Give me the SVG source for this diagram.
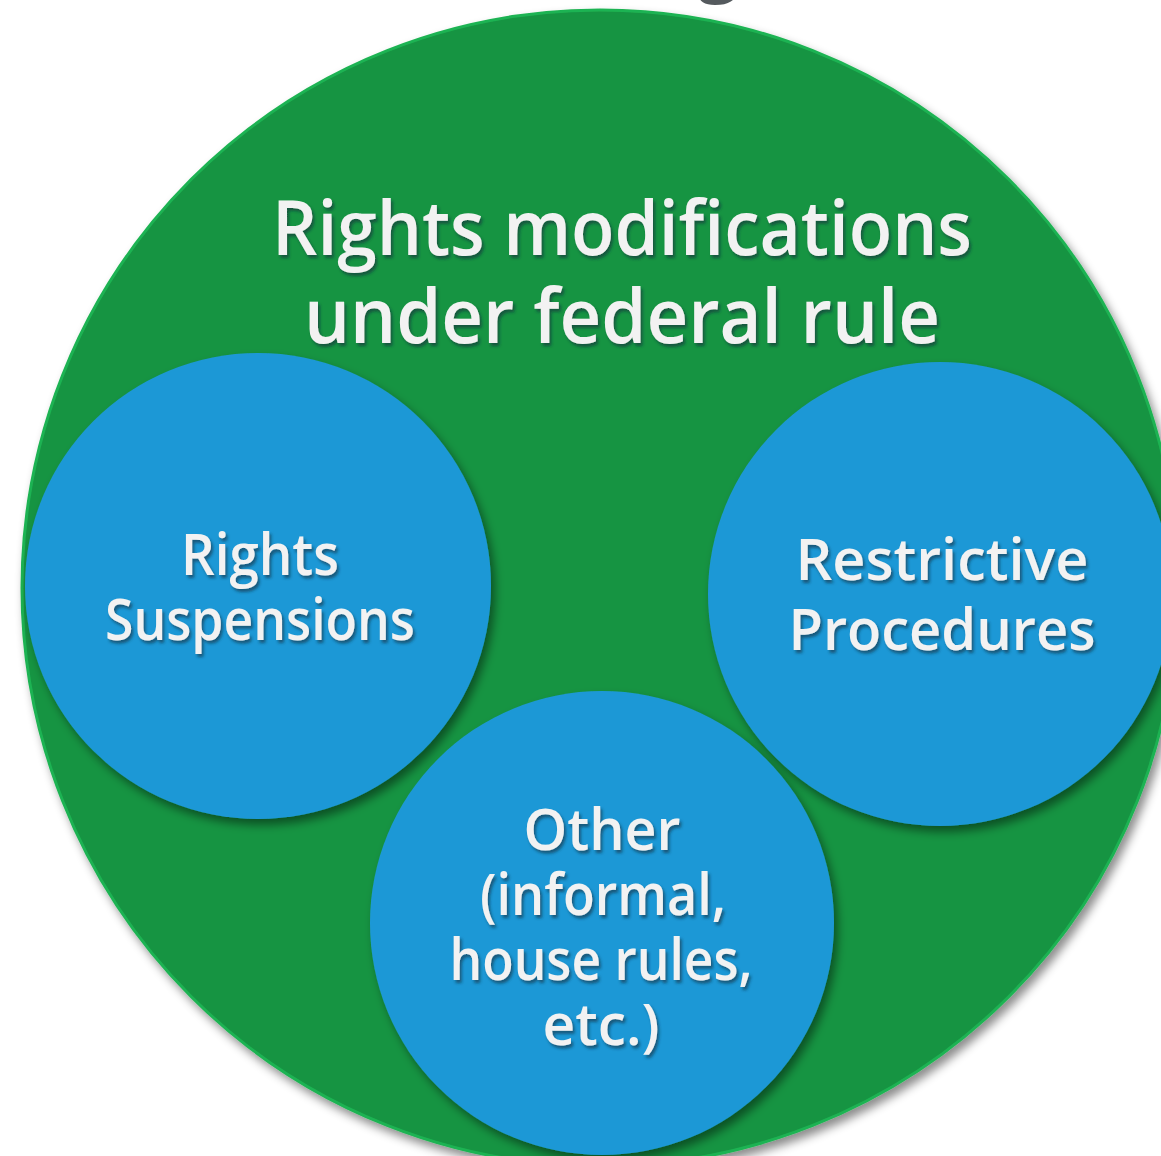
<svg xmlns="http://www.w3.org/2000/svg" width="1161" height="1156" viewBox="0 0 1161 1156">
  <defs>
    <filter id="shadow" x="-10%" y="-10%" width="130%" height="130%">
      <feDropShadow dx="4" dy="6" stdDeviation="5" flood-color="#000" flood-opacity="0.45"/>
    </filter>
    <filter id="tshadow" x="-10%" y="-20%" width="120%" height="150%">
      <feDropShadow dx="2" dy="3" stdDeviation="1.5" flood-color="#0a2a3a" flood-opacity="0.6"/>
    </filter>
  </defs>
  <style>
    .outer { fill: #169443; stroke: #1fb352; stroke-width: 3; }
    .inner { fill: #1e98d6; }
    .label { font-family: "Open Sans", "DejaVu Sans", sans-serif; fill: #f2f2f2; text-anchor: middle; font-weight: 600; }
    .title { font-size: 76px; }
    .sub { font-size: 58px; }
  </style>
  <rect width="1161" height="1156" fill="#ffffff"/>
  <text x="718" y="-12" font-family="Open Sans, sans-serif" font-size="72" font-weight="600" fill="#555a5e" text-anchor="middle">g</text>

  <g id="connectors"/>

  <g id="outer-circle">
    <circle class="outer" cx="600" cy="588" r="578" filter="url(#shadow)"/>
    <g filter="url(#tshadow)">
      <text class="label title" x="622" y="255" textLength="700" lengthAdjust="spacingAndGlyphs">Rights modifications</text>
      <text class="label title" x="622" y="343" textLength="636" lengthAdjust="spacingAndGlyphs">under federal rule</text>
    </g>
  </g>

  <g id="rights-suspensions">
    <circle class="inner" cx="258" cy="586" r="233" filter="url(#shadow)"/>
    <g filter="url(#tshadow)">
      <text class="label sub" x="260" y="575" textLength="158" lengthAdjust="spacingAndGlyphs">Rights</text>
      <text class="label sub" x="260" y="640" textLength="310" lengthAdjust="spacingAndGlyphs">Suspensions</text>
    </g>
  </g>

  <g id="restrictive-procedures">
    <circle class="inner" cx="940" cy="594" r="232" filter="url(#shadow)"/>
    <g filter="url(#tshadow)">
      <text class="label sub" x="942" y="580" textLength="293" lengthAdjust="spacingAndGlyphs">Restrictive</text>
      <text class="label sub" x="942" y="650" textLength="307" lengthAdjust="spacingAndGlyphs">Procedures</text>
    </g>
  </g>

  <g id="other">
    <circle class="inner" cx="602" cy="923" r="232" filter="url(#shadow)"/>
    <g filter="url(#tshadow)">
      <text class="label sub" x="602" y="850" textLength="157" lengthAdjust="spacingAndGlyphs">Other</text>
      <text class="label sub" x="603" y="915" textLength="246" lengthAdjust="spacingAndGlyphs">(informal,</text>
      <text class="label sub" x="601" y="980" textLength="303" lengthAdjust="spacingAndGlyphs">house rules,</text>
      <text class="label sub" x="601" y="1045" textLength="117" lengthAdjust="spacingAndGlyphs">etc.)</text>
    </g>
  </g>
</svg>
